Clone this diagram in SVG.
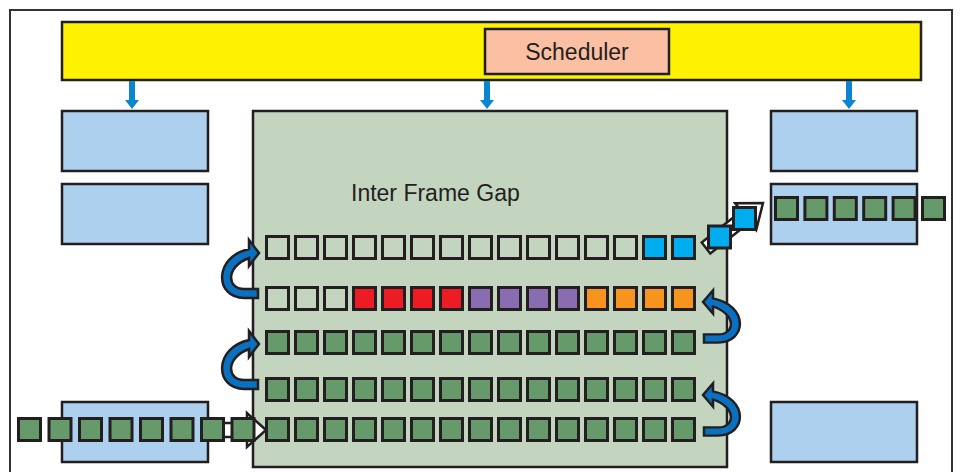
<svg xmlns="http://www.w3.org/2000/svg" width="960" height="472" viewBox="0 0 960 472">
<style>
.box{stroke:#231f20;stroke-width:2.5}
.blue{fill:#acd0ee}
.sq{stroke:#231f20;stroke-width:3}
.g{fill:#679a6b}
.l{fill:#c3d4bf}
.b{fill:#00aeef}
.r{fill:#ed1c24}
.p{fill:#8a6db0}
.o{fill:#f7941d}
.txt{font-family:"Liberation Sans",Arial,sans-serif;fill:#231f20}
.darr{fill:#0a86d0}
.carr{fill:#0a70c0;stroke:#231f20;stroke-width:2.5;stroke-linejoin:miter}
.warr{fill:#ffffff;stroke:#231f20;stroke-width:2.5;stroke-linejoin:miter}
</style>
<defs>
<path id="curl" d="M 0,0 L -10,-13 L -10,-4 C -46,4 -44,45 -15,45 L -1,45 L -1,36 L -15,36 C -32,36 -34,14 -10,5 L -10,13 Z"/>
<path id="down" d="M -3,0 L 3,0 L 3,19 L 7,19 L 0,28 L -7,19 L -3,19 Z"/>
<rect id="s" width="22" height="22"/>
</defs>
<rect x="0" y="0" width="960" height="472" fill="#ffffff"/>
<rect id="frame" x="10" y="10" width="942" height="480" fill="none" stroke="#333333" stroke-width="2"/>

<g id="bus">
<rect class="box" x="62" y="22" width="859" height="58" fill="#fff200"/>
</g>
<g id="scheduler">
<rect class="box" x="485" y="29" width="184" height="45" fill="#fbbfa3"/>
<text class="txt" x="577" y="60" font-size="23" text-anchor="middle">Scheduler</text>
</g>

<g id="left-box-1"><rect class="box blue" x="62" y="111" width="146" height="60"/></g>
<g id="left-box-2"><rect class="box blue" x="62" y="184" width="146" height="60"/></g>
<g id="left-box-3"><rect class="box blue" x="62" y="402" width="146" height="60"/></g>
<g id="right-box-1"><rect class="box blue" x="771" y="111" width="146" height="60"/></g>
<g id="right-box-2"><rect class="box blue" x="771" y="184" width="146" height="60"/></g>
<g id="right-box-3"><rect class="box blue" x="771" y="402" width="146" height="60"/></g>

<g id="ifg">
<rect class="box" x="253" y="111" width="474" height="356" fill="#c3d4bf"/>
<text class="txt" x="351" y="201" font-size="23">Inter Frame Gap</text>
</g>

<g id="connectors">
<use href="#down" class="darr" x="132" y="81"/>
<use href="#down" class="darr" x="487" y="81"/>
<use href="#down" class="darr" x="849" y="81"/>
<use href="#curl" class="carr" transform="translate(259,253)"/>
<use href="#curl" class="carr" transform="translate(259,344)"/>
<use href="#curl" class="carr" transform="translate(703,302) scale(-1,0.9)"/>
<use href="#curl" class="carr" transform="translate(703,395) scale(-1,0.9)"/>
<polygon class="warr" points="214,423 247,423 247,413 266,430 247,447 247,437 214,437"/>
<polygon class="warr" points="701.7,242.5 741.4,211.1 735.2,203.3 763,203 756.2,230 750,222.1 710.3,253.5"/>
</g>

<g id="row-1" class="sq">
<use href="#s" class="l" x="266.5" y="236.5"/><use href="#s" class="l" x="295.5" y="236.5"/><use href="#s" class="l" x="324.5" y="236.5"/><use href="#s" class="l" x="353.5" y="236.5"/><use href="#s" class="l" x="382.5" y="236.5"/><use href="#s" class="l" x="411.5" y="236.5"/><use href="#s" class="l" x="440.5" y="236.5"/><use href="#s" class="l" x="469.5" y="236.5"/><use href="#s" class="l" x="498.5" y="236.5"/><use href="#s" class="l" x="527.5" y="236.5"/><use href="#s" class="l" x="556.5" y="236.5"/><use href="#s" class="l" x="585.5" y="236.5"/><use href="#s" class="l" x="614.5" y="236.5"/><use href="#s" class="b" x="643.5" y="236.5"/><use href="#s" class="b" x="672.5" y="236.5"/>
</g>
<g id="row-2" class="sq">
<use href="#s" class="l" x="266.5" y="287.5"/><use href="#s" class="l" x="295.5" y="287.5"/><use href="#s" class="l" x="324.5" y="287.5"/><use href="#s" class="r" x="353.5" y="287.5"/><use href="#s" class="r" x="382.5" y="287.5"/><use href="#s" class="r" x="411.5" y="287.5"/><use href="#s" class="r" x="440.5" y="287.5"/><use href="#s" class="p" x="469.5" y="287.5"/><use href="#s" class="p" x="498.5" y="287.5"/><use href="#s" class="p" x="527.5" y="287.5"/><use href="#s" class="p" x="556.5" y="287.5"/><use href="#s" class="o" x="585.5" y="287.5"/><use href="#s" class="o" x="614.5" y="287.5"/><use href="#s" class="o" x="643.5" y="287.5"/><use href="#s" class="o" x="672.5" y="287.5"/>
</g>
<g id="row-3" class="sq g">
<use href="#s" x="266.5" y="331.5"/><use href="#s" x="295.5" y="331.5"/><use href="#s" x="324.5" y="331.5"/><use href="#s" x="353.5" y="331.5"/><use href="#s" x="382.5" y="331.5"/><use href="#s" x="411.5" y="331.5"/><use href="#s" x="440.5" y="331.5"/><use href="#s" x="469.5" y="331.5"/><use href="#s" x="498.5" y="331.5"/><use href="#s" x="527.5" y="331.5"/><use href="#s" x="556.5" y="331.5"/><use href="#s" x="585.5" y="331.5"/><use href="#s" x="614.5" y="331.5"/><use href="#s" x="643.5" y="331.5"/><use href="#s" x="672.5" y="331.5"/>
</g>
<g id="row-4" class="sq g">
<use href="#s" x="266.5" y="378.5"/><use href="#s" x="295.5" y="378.5"/><use href="#s" x="324.5" y="378.5"/><use href="#s" x="353.5" y="378.5"/><use href="#s" x="382.5" y="378.5"/><use href="#s" x="411.5" y="378.5"/><use href="#s" x="440.5" y="378.5"/><use href="#s" x="469.5" y="378.5"/><use href="#s" x="498.5" y="378.5"/><use href="#s" x="527.5" y="378.5"/><use href="#s" x="556.5" y="378.5"/><use href="#s" x="585.5" y="378.5"/><use href="#s" x="614.5" y="378.5"/><use href="#s" x="643.5" y="378.5"/><use href="#s" x="672.5" y="378.5"/>
</g>
<g id="row-5" class="sq g">
<use href="#s" x="266.5" y="418.5"/><use href="#s" x="295.5" y="418.5"/><use href="#s" x="324.5" y="418.5"/><use href="#s" x="353.5" y="418.5"/><use href="#s" x="382.5" y="418.5"/><use href="#s" x="411.5" y="418.5"/><use href="#s" x="440.5" y="418.5"/><use href="#s" x="469.5" y="418.5"/><use href="#s" x="498.5" y="418.5"/><use href="#s" x="527.5" y="418.5"/><use href="#s" x="556.5" y="418.5"/><use href="#s" x="585.5" y="418.5"/><use href="#s" x="614.5" y="418.5"/><use href="#s" x="643.5" y="418.5"/><use href="#s" x="672.5" y="418.5"/>
</g>
<g id="input-frames" class="sq g">
<use href="#s" x="18.5" y="418.5"/><use href="#s" x="49" y="418.5"/><use href="#s" x="79.5" y="418.5"/><use href="#s" x="110" y="418.5"/><use href="#s" x="140.5" y="418.5"/><use href="#s" x="171" y="418.5"/><use href="#s" x="201.5" y="418.5"/><use href="#s" x="232" y="418.5"/>
</g>
<g id="output-frames" class="sq">
<use href="#s" class="b" x="708.5" y="226"/><use href="#s" class="b" x="733.5" y="207.5"/>
<use href="#s" class="g" x="775.5" y="197.5"/><use href="#s" class="g" x="804.9" y="197.5"/><use href="#s" class="g" x="834.3" y="197.5"/><use href="#s" class="g" x="863.7" y="197.5"/><use href="#s" class="g" x="893.1" y="197.5"/><use href="#s" class="g" x="922.5" y="197.5"/>
</g>
</svg>
